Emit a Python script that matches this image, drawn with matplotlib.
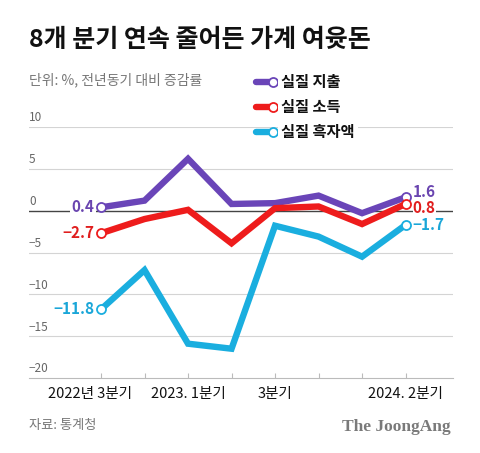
import matplotlib
matplotlib.use('Agg')
import matplotlib.pyplot as plt
from matplotlib.lines import Line2D
from matplotlib.transforms import ScaledTranslation

plt.rcParams['font.family'] = ['Noto Sans CJK KR', 'DejaVu Sans']
plt.rcParams['axes.unicode_minus'] = True

# Data
quarters = ['2022Q3', '2022Q4', '2023Q1', '2023Q2', '2023Q3', '2023Q4', '2024Q1', '2024Q2']
spending = [0.4, 1.2, 6.2, 0.8, 0.9, 1.8, -0.3, 1.6]
income = [-2.7, -1.0, 0.1, -3.9, 0.3, 0.5, -1.6, 0.8]
surplus = [-11.8, -7.1, -15.9, -16.5, -1.8, -3.1, -5.5, -1.7]
series_names = ['실질 지출', '실질 소득', '실질 흑자액']
xtick_idx = [0, 2, 4, 7]
xtick_labels = ['2022년 3분기', '2023. 1분기', '3분기', '2024. 2분기']
yticks = [10, 5, 0, -5, -10, -15, -20]

COLORS = ['#6a45b8', '#ee1c1c', '#1aaedf']
LABEL_COLORS = ['#6a45b0', '#e01e1e', '#1aa6d8']
# small vertical nudges (points) for the end labels so they don't collide
END_NUDGE = [4, -3, 0]

W, H = 480, 453
def fx(x): return x / W
def fy(y): return 1 - y / H

fig = plt.figure(figsize=(4.8, 4.53), dpi=100)
ax = fig.add_axes([fx(29), fy(378), fx(453) - fx(29), fy(127) - fy(378)])
x = list(range(len(quarters)))
ax.set_xlim(-1.655, 8.09)
ax.set_ylim(-20, 10)

for s in ['top', 'right', 'left']:
    ax.spines[s].set_visible(False)
ax.spines['bottom'].set_color('#bbbbbb')
ax.spines['bottom'].set_linewidth(0.8)

ax.set_yticks([])
for v in yticks:
    if v == 0:
        ax.axhline(0, color='#444444', lw=1.0, zorder=1)
    elif v != -20:
        ax.axhline(v, color='#d4d4d4', lw=0.8, zorder=1)
    lab = str(v).replace('-', '−')
    ax.text(0.0, v + 0.3, lab, transform=ax.get_yaxis_transform(), ha='left', va='bottom',
            fontsize=8.5, color='#666666')

ax.set_xticks(x)
ax.set_xticklabels(['' for _ in x])
ax.tick_params(axis='x', direction='in', length=3.5, color='#bbbbbb', width=0.8, pad=4)
for i, lab in zip(xtick_idx, xtick_labels):
    t = ax.text(i, -0.035, lab, transform=ax.get_xaxis_transform(), ha='center', va='top',
                fontsize=10.5, color='#111111', fontweight='medium')
    if i == 0:
        t.set_transform(t.get_transform() + ScaledTranslation(-0.11, 0, fig.dpi_scale_trans))

all_series = [spending, income, surplus]
for vals, c, lc, nud in zip(all_series, COLORS, LABEL_COLORS, END_NUDGE):
    ax.plot(x, vals, color=c, lw=4.6, solid_joinstyle='miter', solid_capstyle='butt', zorder=3,
            marker='o', markevery=[0, len(vals) - 1], markersize=6.5, markerfacecolor='white',
            markeredgecolor=c, markeredgewidth=1.3)
    l = ('%.1f' % vals[0]).replace('-', '−')
    r = ('%.1f' % vals[-1]).replace('-', '−')
    ax.annotate(l, (x[0], vals[0]), xytext=(-5, 0), textcoords='offset points', ha='right',
                va='center', fontsize=11, fontweight='bold', color=lc, zorder=4,
                bbox=dict(boxstyle='square,pad=0.1', fc='white', ec='none'))
    ax.annotate(r, (x[-1], vals[-1]), xytext=(5, nud), textcoords='offset points', ha='left',
                va='center', fontsize=11, fontweight='bold', color=lc, zorder=4,
                bbox=dict(boxstyle='square,pad=0.0', fc='white', ec='none'))

# legend
leg_y = [82, 107, 132]
for name, c, yy in zip(series_names, COLORS, leg_y):
    fig.add_artist(Line2D([fx(256), fx(270)], [fy(yy), fy(yy)], color=c, lw=4.6,
                          solid_capstyle='round', zorder=5))
    fig.add_artist(Line2D([fx(273)], [fy(yy)], marker='o', markersize=6.5, markerfacecolor='white',
                          markeredgecolor=c, markeredgewidth=1.3, zorder=6))
    fig.text(fx(281), fy(yy), name, ha='left', va='center', fontsize=11, fontweight='bold',
             color='#111111', zorder=6,
             bbox=dict(boxstyle='square,pad=0.2', fc='white', ec='none'))

fig.text(fx(29), fy(40), '8개 분기 연속 줄어든 가계 여윳돈', ha='left', va='center', fontsize=18,
         fontweight='bold', color='#111111')
fig.text(fx(29), fy(80), '단위: %, 전년동기 대비 증감률', ha='left', va='center', fontsize=10,
         color='#777777')
fig.text(fx(29), fy(425), '자료: 통계청', ha='left', va='center', fontsize=9.5, color='#777777')
fig.text(fx(451), fy(427), 'The JoongAng', ha='right', va='center', fontsize=12.5,
         fontweight='bold', family='Liberation Serif', color='#7a7a7a')

fig.savefig('out.png', dpi=100)
